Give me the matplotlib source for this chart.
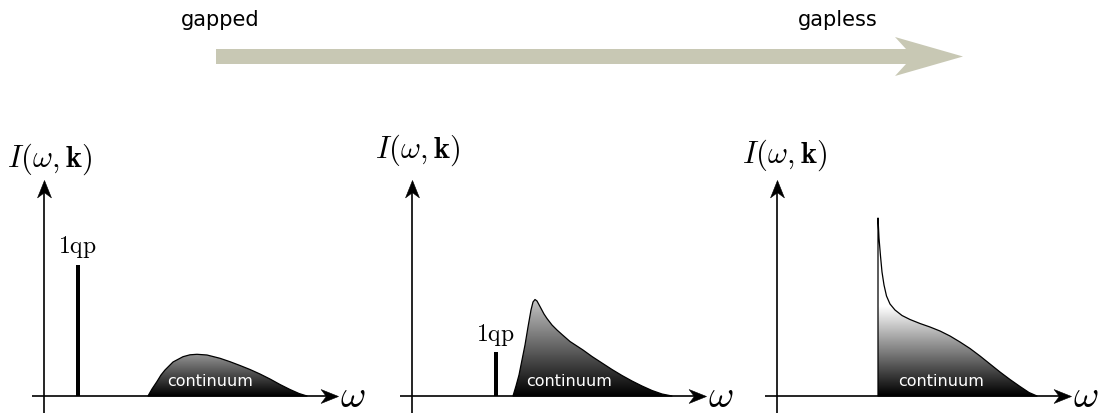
import numpy as np
import matplotlib
matplotlib.use("Agg")
import matplotlib.pyplot as plt
from matplotlib.patches import Polygon
from matplotlib.path import Path

plt.rcParams['mathtext.fontset'] = 'cm'
plt.rcParams['font.family'] = ['DejaVu Sans']

# ---- spectral data: (omega, intensity) for each regime ----
qp_omega = [3.4, 8.4, None]        # single quasiparticle peak position
qp_weight = [13.1, 4.4, None]      # its spectral weight

cont1_omega = [10.4, 10.8, 11.3, 11.7, 12.1, 12.9, 13.9, 14.6, 15.3, 16.3,
               17.6, 18.6, 19.6, 20.6, 21.6, 22.6, 23.6, 24.6, 25.5, 26.3]
cont1_I = [0.0, 0.7, 1.45, 2.1, 2.6, 3.4, 3.93, 4.12, 4.17, 4.1,
           3.77, 3.43, 3.05, 2.65, 2.2, 1.7, 1.15, 0.65, 0.25, 0.0]

cont2_omega = [10.1, 10.4, 10.7, 11.0, 11.3, 11.6, 11.9, 12.1, 12.3, 12.5,
               12.8, 13.2, 13.5, 14.0, 14.5, 15.0, 15.8, 17.1, 18.0, 19.0,
               20.0, 21.0, 22.0, 23.0, 24.0, 25.0, 26.0]
cont2_I = [0.0, 1.0, 2.1, 3.6, 5.1, 6.9, 8.6, 9.4, 9.65, 9.5,
           8.95, 8.2, 7.75, 7.1, 6.6, 6.15, 5.45, 4.6, 3.95, 3.3,
           2.65, 2.05, 1.5, 1.0, 0.55, 0.2, 0.0]

cont3_omega = [10.1, 10.1, 10.2, 10.35, 10.5, 10.7, 10.95, 11.3, 11.8, 12.5,
               13.3, 14.3, 15.3, 16.3, 17.3, 18.3, 19.3, 20.3, 21.3, 22.3,
               23.3, 24.3, 25.2, 26.0]
cont3_I = [0.0, 17.8, 15.8, 14.0, 12.4, 11.1, 10.0, 9.2, 8.6, 8.05,
           7.65, 7.25, 6.9, 6.5, 6.0, 5.4, 4.75, 4.0, 3.2, 2.4,
           1.65, 0.95, 0.35, 0.0]

continua = [(cont1_omega, cont1_I), (cont2_omega, cont2_I), (cont3_omega, cont3_I)]
regime_labels = ["gapped", "gapless"]

# ---- layout (pixels) ----
W, H = 1100, 416
origins_px = [44, 412, 777]     # x pixel of each panel's vertical axis
baseline_px = 396
unit_px = 10.0                  # pixels per data unit
xlim = (-4.0, 32.0)
ylim = (-(H - baseline_px) / unit_px, 27.0)

# brightness of the gradient at the top of each continuum
grad_scale = [7.2, 12.5, 9.0]
ilabel_pos = [(0.6, 23.7), (0.6, 24.6), (0.8, 24.1)]
qp_label_base = [14.3, 5.5, None]
cont_label_pos = [(16.6, 1.0), (15.7, 1.0), (16.4, 1.0)]

fig = plt.figure(figsize=(W / 100, H / 100), dpi=100)

# stealth-type arrow heads as marker paths
def stealth(direction):
    if direction == 'right':
        v = [(0, 0), (-1, 0.4), (-0.7, 0), (-1, -0.4), (0, 0)]
    else:
        v = [(0, 0), (0.4, -1), (0, -0.7), (-0.4, -1), (0, 0)]
    return Path(v, [Path.MOVETO, Path.LINETO, Path.LINETO, Path.LINETO, Path.CLOSEPOLY])

for i, ox in enumerate(origins_px):
    left_px = ox + xlim[0] * unit_px
    w_px = (xlim[1] - xlim[0]) * unit_px
    h_px = (ylim[1] - ylim[0]) * unit_px
    ax = fig.add_axes([left_px / W, 0, w_px / W, h_px / H])
    ax.set_axis_off()

    # axes with arrow heads
    x_tip, y_tip = 29.4, 21.6
    ax.plot([-1.2, x_tip - 0.6], [0, 0], color='black', lw=1.2, zorder=4,
            solid_capstyle='butt')
    ax.plot([0, 0], [-1.7, y_tip - 0.6], color='black', lw=1.2, zorder=4,
            solid_capstyle='butt')
    ax.plot([x_tip], [0], marker=stealth('right'), ms=25, color='black',
            mec='black', mew=0.4, zorder=5)
    ax.plot([0], [y_tip], marker=stealth('up'), ms=25, color='black',
            mec='black', mew=0.4, zorder=5)

    ax.text(30.9, 0.0, r'$\omega$', fontsize=28, ha='center', va='center')
    lx, ly = ilabel_pos[i]
    ax.text(lx, ly, r'$I(\omega,\mathbf{k})$', fontsize=22, ha='center', va='center')

    # quasiparticle peak
    if qp_omega[i] is not None:
        ax.bar([qp_omega[i]], [qp_weight[i]], width=0.42, bottom=0,
               color='black', zorder=3)
        ax.text(qp_omega[i] - 0.1, qp_label_base[i], r'$\mathrm{1qp}$',
                fontsize=17, ha='center', va='baseline')

    # continuum with vertical gradient fill
    om, inten = continua[i]
    verts = list(zip(om, inten))
    poly = Polygon(verts, closed=True, facecolor='none', edgecolor='black',
                   lw=0.9, zorder=3, joinstyle='round')
    ax.add_patch(poly)
    top = max(inten)
    yy = np.linspace(0, top, 256)
    grad = np.clip(yy / grad_scale[i], 0, 1)[:, None]
    im = ax.imshow(grad, extent=[min(om), max(om), 0, top], origin='lower',
                   cmap='gray', vmin=0, vmax=1, aspect='auto', zorder=2,
                   interpolation='bilinear')
    im.set_clip_path(poly)
    cx, cy = cont_label_pos[i]
    ax.text(cx, cy, 'continuum', fontsize=11.5, color='white', ha='center',
            va='baseline', zorder=6)

    ax.set_xlim(*xlim)
    ax.set_ylim(*ylim)

# regime arrow on top
top_ax = fig.add_axes([0, 0, 1, 1])
top_ax.set_axis_off()
top_ax.set_xlim(0, W)
top_ax.set_ylim(H, 0)
body_x0, body_x1, body_y0, body_y1 = 216, 906, 49, 64
head_back, head_tip, head_half = 895, 963, 19.5
cy_arrow = 0.5 * (body_y0 + body_y1)
arrow_verts = [(body_x0, body_y0), (body_x1, body_y0), (head_back, cy_arrow - head_half),
               (head_tip, cy_arrow), (head_back, cy_arrow + head_half),
               (body_x1, body_y1), (body_x0, body_y1)]
top_ax.add_patch(Polygon(arrow_verts, closed=True, facecolor='#c8c8b4',
                         edgecolor='none'))
top_ax.text(220, 26, regime_labels[0], fontsize=15, ha='center', va='baseline')
top_ax.text(838, 26, regime_labels[1], fontsize=15, ha='center', va='baseline')

fig.savefig('out.png', dpi=100)
